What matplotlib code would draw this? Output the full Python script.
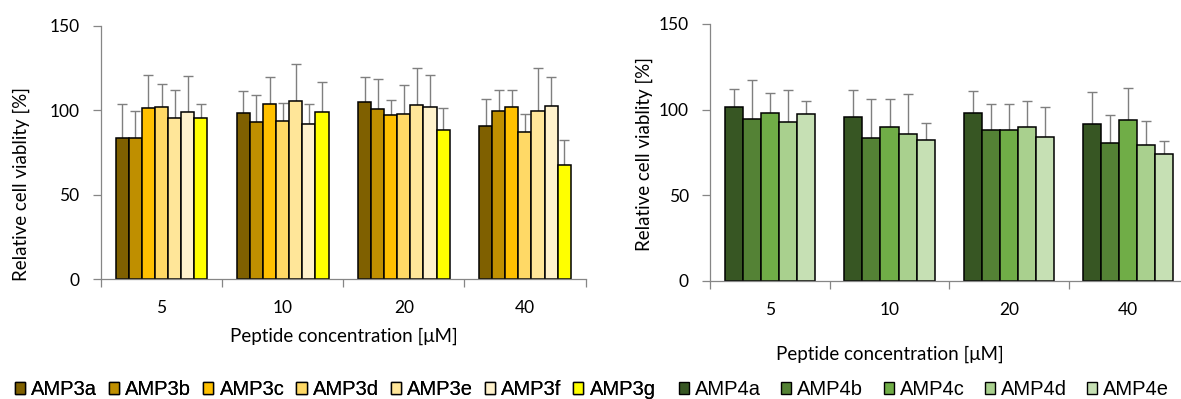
import matplotlib
matplotlib.use('Agg')
import matplotlib.pyplot as plt
from matplotlib.patches import Patch
import numpy as np

# Peptide concentrations (x categories)
concentrations = ['5', '10', '20', '40']

# AMP3 series (left panel): mean viability and upper error per concentration
amp3_names = ['AMP3a', 'AMP3b', 'AMP3c', 'AMP3d', 'AMP3e', 'AMP3f', 'AMP3g']
amp3a = [83.8, 98.4, 104.9, 90.9]
amp3b = [83.8, 93.2, 100.9, 99.5]
amp3c = [101.5, 103.9, 97.2, 101.9]
amp3d = [101.9, 93.8, 98.0, 86.9]
amp3e = [95.2, 105.3, 102.9, 99.5]
amp3f = [99.0, 91.9, 101.9, 102.7]
amp3g = [95.6, 99.0, 88.5, 67.8]
amp3a_err = [20.1, 13.0, 15.0, 15.5]
amp3b_err = [15.5, 16.0, 17.6, 12.3]
amp3c_err = [19.5, 15.6, 8.8, 10.3]
amp3d_err = [13.8, 10.7, 17.1, 10.9]
amp3e_err = [16.6, 22.0, 21.9, 25.3]
amp3f_err = [21.0, 12.0, 19.1, 16.8]
amp3g_err = [7.9, 17.5, 13.0, 14.8]

# AMP4 series (right panel)
amp4_names = ['AMP4a', 'AMP4b', 'AMP4c', 'AMP4d', 'AMP4e']
amp4a = [101.5, 95.8, 98.2, 91.6]
amp4b = [94.5, 83.6, 88.3, 80.7]
amp4c = [98.2, 89.8, 87.9, 93.9]
amp4d = [92.5, 85.9, 89.8, 79.1]
amp4e = [97.2, 82.0, 84.2, 73.8]
amp4a_err = [10.3, 15.4, 12.7, 18.9]
amp4b_err = [23.0, 22.8, 15.1, 16.3]
amp4c_err = [11.7, 16.6, 15.2, 18.7]
amp4d_err = [18.7, 23.4, 15.4, 14.4]
amp4e_err = [7.6, 10.1, 17.1, 7.8]

amp3_vals = [amp3a, amp3b, amp3c, amp3d, amp3e, amp3f, amp3g]
amp3_errs = [amp3a_err, amp3b_err, amp3c_err, amp3d_err, amp3e_err, amp3f_err, amp3g_err]
amp4_vals = [amp4a, amp4b, amp4c, amp4d, amp4e]
amp4_errs = [amp4a_err, amp4b_err, amp4c_err, amp4d_err, amp4e_err]

amp3_colors = ['#7F6000', '#BF8F00', '#FFC000', '#FFD966', '#FFE699', '#FFF2CC', '#FFFF00']
amp4_colors = ['#375623', '#548235', '#70AD47', '#A9D08E', '#C6E0B4']

plt.rcParams['font.family'] = ['Lato', 'DejaVu Sans']
axis_grey = '#868686'
W, H = 1181, 399

fig = plt.figure(figsize=(W / 100, H / 100), dpi=100)
ax1 = fig.add_axes([101 / W, 1 - 279.3 / H, 484.5 / W, 253.6 / H])
ax2 = fig.add_axes([710.4 / W, 1 - 280.7 / H, 477.6 / W, 256.7 / H])


def draw_panel(ax, vals, errs, colors, ylab_xy, xlab_xy):
    n = len(vals)
    x = np.arange(len(concentrations))
    group_w = 0.757
    bw = group_w / n
    for i in range(n):
        pos = x - group_w / 2 + bw * (i + 0.5)
        ax.bar(pos, vals[i], bw, color=colors[i], edgecolor='black', linewidth=1.1, zorder=2)
        ax.errorbar(pos, vals[i], yerr=[np.zeros(len(x)), errs[i]], fmt='none',
                    ecolor='#7f7f7f', elinewidth=1.0, capsize=3.5, capthick=1.0, zorder=1)
    ax.set_xlim(-0.5, len(x) - 0.5)
    ax.set_ylim(0, 150)
    ax.set_yticks([0, 50, 100, 150])
    ax.set_xticks(x)
    ax.set_xticklabels(concentrations)
    ax.set_xticks(np.arange(len(x) + 1) - 0.5, minor=True)
    ax.tick_params(axis='x', which='major', length=0, pad=15, labelsize=12.5)
    ax.tick_params(axis='x', which='minor', length=6, width=0.9, color=axis_grey, direction='out')
    ax.tick_params(axis='y', length=6, width=0.9, color=axis_grey, pad=9.5, labelsize=12.5)
    for s in ['top', 'right']:
        ax.spines[s].set_visible(False)
    for s in ['left', 'bottom']:
        ax.spines[s].set_color(axis_grey)
        ax.spines[s].set_linewidth(0.9)
    ax.set_ylabel('Relative cell viablity [%]', fontsize=13.5)
    ax.yaxis.set_label_coords(*ylab_xy)
    ax.yaxis.label.set_va('center')
    ax.set_xlabel('Peptide concentration [\u03bcM]', fontsize=13.5)
    ax.xaxis.set_label_coords(*xlab_xy)
    ax.xaxis.label.set_va('center')


draw_panel(ax1, amp3_vals, amp3_errs, amp3_colors, (-0.165, 0.376), (0.5016, -0.2236))
draw_panel(ax2, amp4_vals, amp4_errs, amp4_colors, (-0.139, 0.4936), (0.376, -0.2856))

leg_kw = dict(loc='lower left', frameon=False, borderpad=0, borderaxespad=0,
              handlelength=0.5, handleheight=0.5, handletextpad=0.3,
              prop={'family': 'Liberation Sans', 'size': 14.5})
h3 = [Patch(facecolor=c, edgecolor='black', linewidth=1.0) for c in amp3_colors]
h4 = [Patch(facecolor=c, edgecolor='black', linewidth=1.0) for c in amp4_colors]
leg1 = fig.legend(h3, amp3_names, ncol=7, columnspacing=0.6,
                  bbox_to_anchor=(15 / W, 0.0), **leg_kw)
fig.add_artist(leg1)
fig.legend(h4, amp4_names, ncol=5, columnspacing=1.0,
           bbox_to_anchor=(679 / W, 0.0), **leg_kw)

fig.savefig('out.png', dpi=100)
